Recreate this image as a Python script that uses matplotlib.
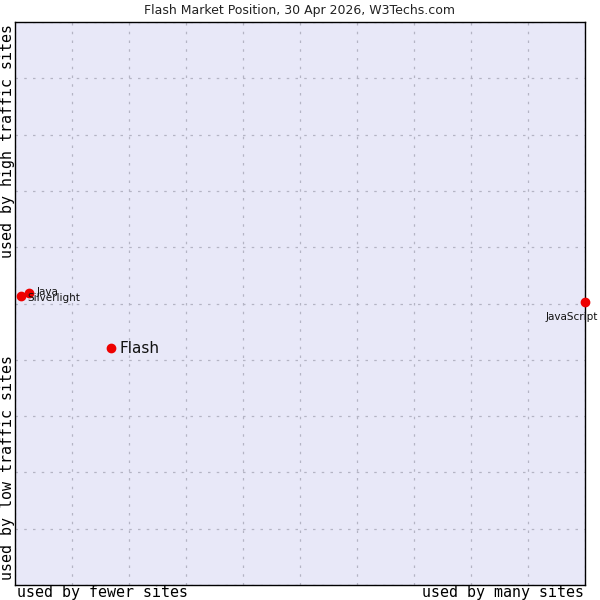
import matplotlib
matplotlib.use('Agg')
import matplotlib.pyplot as plt

# technologies and their position (0-100 scale)
techs = ['Flash', 'Java', 'Silverlight', 'JavaScript']
site_share = [16.8, 2.5, 1.1, 100.0]       # horizontal: fewer -> many sites
traffic_rank = [42.1, 51.9, 51.3, 50.2]    # vertical: low -> high traffic

# label placement, pixels from the point
label_offsets = [(9, 0), (7, 1), (6, -2), (-13, -15)]
label_align = ['left', 'left', 'left', 'center']
label_sizes = [11, 7.5, 7.5, 7.5]

fig = plt.figure(figsize=(6, 6), dpi=100)
ax = fig.add_axes([0.025, 0.025, 0.95, 0.938])
ax.set_facecolor('#e8e8f8')

ax.set_xlim(0, 100)
ax.set_ylim(0, 100)
ax.set_xticks(range(0, 101, 10))
ax.set_yticks(range(0, 101, 10))
ax.tick_params(length=0, labelbottom=False, labelleft=False)
ax.grid(True, color='#b4b4c4', linestyle=(0, (2, 5)), linewidth=0.9)
for sp in ax.spines.values():
    sp.set_color('black')
    sp.set_linewidth(1)

ax.plot(site_share, traffic_rank, 'o', color='#ee0000', markersize=6,
        linestyle='none', clip_on=False, zorder=3)

for i, name in enumerate(techs):
    ax.annotate(name, (site_share[i], traffic_rank[i]),
                xytext=label_offsets[i], textcoords='offset pixels',
                ha=label_align[i], va='center', fontsize=label_sizes[i],
                color='#111111', annotation_clip=False, zorder=4)

fig.text(0.5, 0.983, 'Flash Market Position, 30 Apr 2026, W3Techs.com',
         ha='center', va='center', fontsize=9, color='#222222')

mono = 'DejaVu Sans Mono'
fig.text(0.028, 0.013, 'used by fewer sites', ha='left', va='center',
         fontsize=10.8, family=mono)
fig.text(0.973, 0.013, 'used by many sites', ha='right', va='center',
         fontsize=10.8, family=mono)
fig.text(0.013, 0.033, 'used by low traffic sites', ha='center', va='bottom',
         rotation=90, fontsize=10.8, family=mono)
fig.text(0.013, 0.96, 'used by high traffic sites', ha='center', va='top',
         rotation=90, fontsize=10.8, family=mono)

fig.savefig('out.png', dpi=100)
